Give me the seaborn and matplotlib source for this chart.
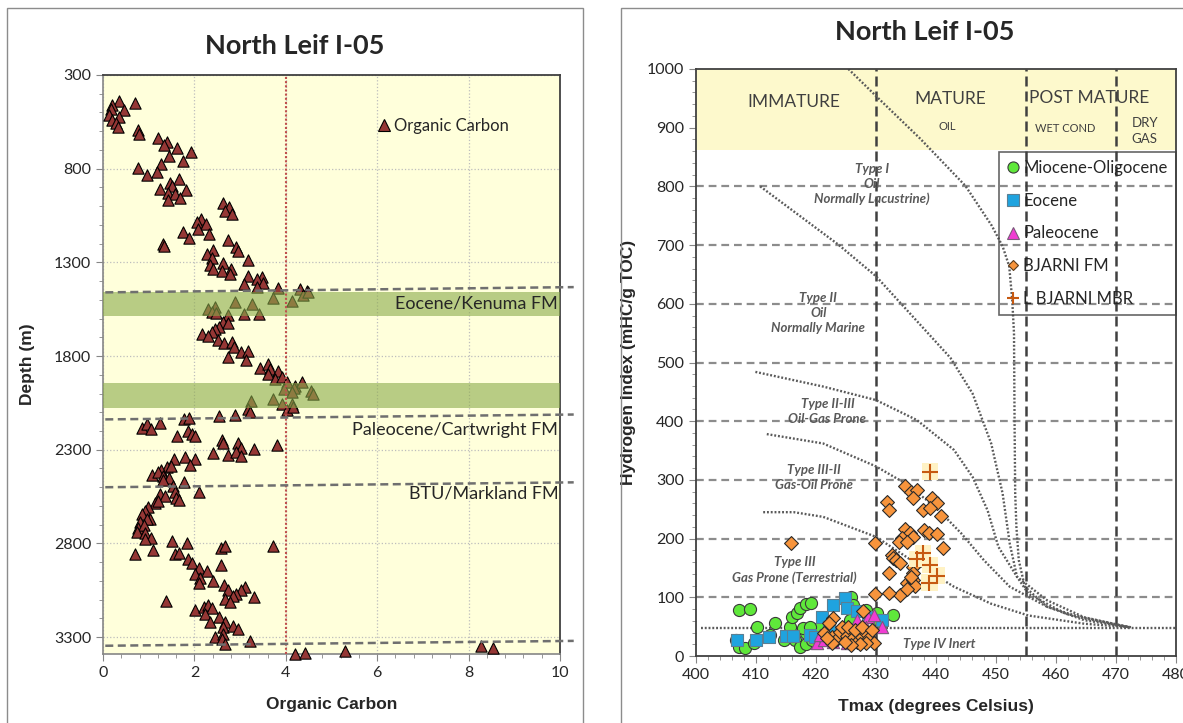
import matplotlib
matplotlib.use("Agg")
import matplotlib.pyplot as plt
import matplotlib.ticker as mticker
from matplotlib.lines import Line2D
from matplotlib.patches import Rectangle
import numpy as np
import seaborn as sns

sns.set_style("ticks")
plt.rcParams["font.family"] = ["Lato", "DejaVu Sans"]
plt.rcParams["axes.unicode_minus"] = False

WELL = "North Leif I-05"

# ---------------- Organic carbon log ----------------
toc = [
    0.34, 0.69, 0.20, 0.47, 0.18, 0.13, 0.35, 0.19, 0.28, 0.32, 0.77, 0.79, 1.20, 1.39,
    1.33, 1.61, 1.93, 1.44, 1.74, 1.27, 0.77, 1.18, 0.96, 1.66, 1.47, 1.50, 1.25, 1.81,
    1.42, 1.58, 1.69, 1.43, 2.63, 2.76, 2.67, 2.83, 2.14, 2.05, 2.25, 2.07, 1.75, 2.33,
    1.88, 2.73, 1.32, 1.34, 2.92, 2.41, 2.96, 2.27, 2.38, 3.18, 2.63, 2.34, 2.41, 2.80,
    2.60, 2.78, 3.17, 3.47, 3.36, 3.51, 3.09, 3.38, 3.84, 4.31, 4.46,
    2.89, 3.25, 3.71, 4.13, 4.38, 4.49, 2.29, 2.44, 2.38, 2.47, 2.74, 3.09, 3.41, 2.63,
    2.74, 2.54, 2.44, 2.38, 2.16, 2.29, 2.52, 2.65, 2.82, 2.87, 3.03, 3.18, 2.73, 3.14,
    3.44, 3.62, 3.65, 3.82, 3.62, 3.76, 3.91, 4.02, 4.20, 4.35, 4.19, 3.97, 4.13, 4.55,
    4.60, 3.73, 3.24, 3.91, 4.13, 3.18, 4.02, 4.16, 3.22, 2.89, 2.54, 0.85, 0.96, 1.05,
    1.25, 1.78, 1.88, 1.61, 1.87, 1.94, 2.01, 2.60, 2.63, 2.96, 3.03, 3.31, 3.80, 2.41,
    2.74, 2.92, 3.03, 1.56, 1.79, 2.01,
    1.90, 1.39, 1.49, 1.28, 1.08, 1.21, 1.32, 1.44, 1.32, 1.78, 1.54, 2.10, 1.25, 1.36,
    1.14, 1.20, 1.58, 1.59, 1.66, 0.99, 0.92, 0.86, 1.03, 0.96, 0.81, 0.77, 0.90, 0.74,
    0.92, 1.05, 0.92, 1.52, 1.83, 1.10, 0.69, 1.58, 1.66, 2.58, 2.67, 3.73, 1.85, 1.94,
    2.10, 2.27, 2.58, 2.01, 2.12, 2.10, 2.41, 2.65, 2.73, 3.11, 3.03, 2.92, 2.85, 2.67,
    3.31, 2.78, 1.37, 2.01, 2.20, 2.30, 2.38, 2.23, 2.54, 2.34, 2.67, 2.63, 2.85, 2.96,
    2.45, 2.63, 2.60, 2.68, 3.22, 4.20, 4.41, 5.30, 8.27, 8.53,
]
depth = [
    440, 452, 461, 488, 483, 511, 524, 542, 554, 578, 596, 614, 635, 655,
    676, 691, 709, 734, 757, 775, 798, 816, 834, 856, 877, 892, 906, 913,
    931, 936, 956, 968, 985, 1002, 1026, 1044, 1070, 1085, 1097, 1124, 1137, 1151,
    1169, 1178, 1200, 1210, 1217, 1232, 1241, 1253, 1277, 1289, 1303, 1312, 1336, 1336,
    1348, 1361, 1372, 1379, 1390, 1411, 1415, 1429, 1438, 1440, 1451,
    1510, 1524, 1492, 1506, 1474, 1459, 1549, 1536, 1563, 1572, 1581, 1578, 1576, 1617,
    1626, 1644, 1653, 1671, 1680, 1693, 1716, 1728, 1725, 1752, 1778, 1775, 1805, 1823,
    1864, 1841, 1868, 1882, 1895, 1922, 1913, 1940, 1958, 1940, 1972, 1976, 1993, 1984,
    2002, 2029, 2038, 2054, 2054, 2083, 2090, 2072, 2101, 2115, 2122, 2182, 2164, 2191,
    2155, 2137, 2128, 2227, 2200, 2218, 2227, 2249, 2262, 2262, 2289, 2298, 2276, 2318,
    2329, 2314, 2332, 2350, 2341, 2350,
    2379, 2391, 2388, 2406, 2433, 2420, 2442, 2450, 2463, 2474, 2495, 2527, 2536, 2545,
    2584, 2571, 2527, 2557, 2570, 2607, 2625, 2643, 2670, 2670, 2688, 2715, 2702, 2739,
    2743, 2769, 2778, 2787, 2796, 2837, 2855, 2858, 2849, 2823, 2811, 2814, 2885, 2903,
    2930, 2948, 2916, 2962, 2983, 3010, 2998, 3023, 3046, 3033, 3051, 3069, 3082, 3095,
    3087, 3113, 3107, 3155, 3140, 3131, 3144, 3176, 3194, 3221, 3221, 3248, 3239, 3257,
    3298, 3284, 3311, 3334, 3323, 3388, 3382, 3375, 3348, 3359,
]

# formation tops (depth at left / right end of the pick line)
pick_left = [1460, 2138, 2500, 3346]
pick_right = [1432, 2112, 2474, 3320]
zone_top = [1460, 1943]
zone_base = [1585, 2077]
fm_names = ["Eocene/Kenuma FM", "Paleocene/Cartwright FM", "BTU/Markland FM"]
fm_name_depth = [1520, 2195, 2532]
toc_cutoff = 4.0

# ---------------- Rock-Eval pyrolysis ----------------
mio_t = [407.1, 409.0, 410.1, 406.7, 407.2, 408.2, 413.2, 412.3, 415.7, 416.0, 416.8,
         417.3, 418.3, 419.1, 416.5, 417.3, 418.4, 419.3, 420.1, 418.4, 417.9, 420.7,
         425.9, 426.2, 428.4, 430.1, 432.9, 430.7, 425.7, 423.4, 419.0, 414.6, 409.6]
mio_hi = [78, 80, 50, 27, 16, 13, 56, 36, 50, 67, 73, 81, 89, 91, 27, 16, 20, 27, 39,
          39, 47, 50, 101, 87, 78, 73, 70, 58, 61, 41, 50, 27, 22]

eoc_t = [406.9, 410.0, 412.1, 415.0, 416.2, 419.0, 421.0, 422.9, 424.8, 425.1, 426.8,
         428.7, 431.0, 422.1, 419.8]
eoc_hi = [28, 27, 33, 34, 34, 36, 67, 87, 98, 81, 76, 67, 61, 50, 33]

pal_t = [420.1, 421.3, 422.9, 424.6, 426.8, 428.7, 429.6, 431.0, 427.3, 425.1, 420.7, 428.4]
pal_hi = [22, 27, 24, 30, 61, 67, 70, 50, 41, 22, 36, 50]

bj_t = [415.8, 429.9, 431.8, 432.1, 434.8, 435.8, 436.8, 436.2, 439.4, 440.2, 437.8,
        439.0, 440.9, 434.8, 435.6, 436.2, 434.4, 438.0, 438.9, 440.2, 441.1, 433.9,
        435.1, 432.6, 432.9, 433.4, 434.0, 432.1, 436.2, 436.2, 435.1, 436.1, 436.5,
        434.0, 432.1, 429.9, 435.1, 435.9, 427.9, 422.9, 422.1, 421.3, 422.6, 423.4,
        424.0, 425.1, 425.9, 426.8, 427.6, 428.4, 428.9, 429.6, 428.4, 427.3, 425.9,
        424.8, 424.3, 425.4, 426.5, 427.6, 429.3, 422.6, 421.8]
bj_hi = [192, 192, 263, 248, 289, 280, 283, 269, 270, 261, 248, 252, 239, 216, 210,
         202, 201, 215, 210, 208, 184, 195, 195, 172, 167, 163, 158, 141, 152, 141, 124,
         130, 119, 104, 108, 106, 114, 135, 76, 64, 56, 40, 33, 27, 41, 34, 27, 23, 33,
         40, 30, 22, 22, 20, 19, 24, 50, 50, 44, 50, 44, 22, 30]

lbj_t = [439.0, 437.8, 436.8, 439.0, 440.2, 438.9]
lbj_hi = [314, 175, 165, 155, 137, 125]

series_names = ["Miocene-Oligocene", "Eocene", "Paleocene", "BJARNI FM", "L BJARNI MBR"]

# kerogen type guide curves
type1_t = [425.4, 430.0, 437.4, 444.9, 449.3, 451.1, 452.2, 452.7, 453.0, 453.1, 453.2,
           453.4, 453.8, 454.8, 458.5, 464.7, 472.2]
type1_hi = [1000, 954, 881, 801, 733, 698, 664, 607, 550, 390, 277, 220, 163, 118, 84, 61, 49]
type2_t = [410.7, 423.7, 430.0, 442.4, 446.1, 449.2, 451.1, 452.3, 453.5, 455.4, 461.6, 470.9, 472.5]
type2_hi = [800, 701, 647, 508, 447, 362, 277, 191, 135, 106, 72, 52, 49]
type23_t = [409.9, 421.2, 430.0, 436.8, 443.0, 446.1, 448.6, 450.4, 453.5, 458.5, 464.7, 472.2]
type23_hi = [484, 459, 436, 402, 351, 305, 248, 186, 135, 95, 66, 49]
type32_t = [411.8, 421.2, 430.0, 434.9, 439.9, 444.2, 448.0, 452.3, 458.5, 464.7, 472.2]
type32_hi = [378, 362, 323, 294, 254, 209, 163, 118, 84, 64, 49]
type3_t = [411.2, 416.3, 421.2, 430.0, 436.8, 443.0, 449.2, 455.4, 464.7, 472.2]
type3_hi = [245, 245, 237, 203, 157, 118, 89, 69, 55, 49]
type4_t = [400.8, 480.0]
type4_hi = [48, 48]

maturity_bounds = [430, 455, 470]
mature_window_hi = 862

W, H = 1183, 723
fig = plt.figure(figsize=(W / 100, H / 100), dpi=100)
fig.patch.set_facecolor("white")

# chart-area borders
for x0 in (7, 621):
    fig.patches.append(Rectangle((x0 / W, -0.1), 576 / W, 1.1 - 8 / H,
                                 transform=fig.transFigure, fill=False,
                                 ec="#8c8c8c", lw=1.0, zorder=0))

BOLD_SANS = ["Liberation Sans", "DejaVu Sans"]
TICK_COLOR = "#262626"
LABEL_SIZE = 12.5
TITLE_SIZE = 19.5

# ===================== TOC vs depth =====================
ax1 = fig.add_axes([103 / W, 1 - 654 / H, 457 / W, 579 / H])
ax1.set_facecolor("#FFFFDB")
ax1.set_xlim(0, 10)
ax1.set_ylim(3390, 300)
ax1.set_xticks(np.arange(0, 11, 2))
ax1.xaxis.set_minor_locator(mticker.MultipleLocator(0.4))
ax1.set_yticks(np.arange(300, 3301, 500))
ax1.yaxis.set_minor_locator(mticker.MultipleLocator(100))
ax1.grid(True, which="major", color="#bdbdbd", ls=":", lw=0.9)
ax1.set_axisbelow(True)

sns.scatterplot(x=toc, y=depth, ax=ax1, marker="^", s=66, color="#953735",
                edgecolor="black", linewidth=0.8, zorder=3, clip_on=False, legend=False)

ax1.axvline(toc_cutoff, color="#C0504D", ls=(0, (1, 1)), lw=1.5, zorder=5)
for top, base in zip(zone_top, zone_base):
    ax1.axhspan(top, base, color="#8AAA4A", alpha=0.6, lw=0, zorder=4)
for dl, dr in zip(pick_left, pick_right):
    ax1.plot([0.05, 10.3], [dl, dr], color="#6f6f6f", lw=1.8, ls=(0, (3.2, 1.8)),
             clip_on=False, zorder=6)
for name, d in zip(fm_names, fm_name_depth):
    ax1.text(9.96, d, name, ha="right", va="center", fontsize=13, color="#262626", zorder=7)

toc_handle = Line2D([], [], marker="^", ls="none", markerfacecolor="#953735",
                    markeredgecolor="black", markersize=8, markeredgewidth=0.8)
ax1.legend([toc_handle], ["Organic Carbon"], loc="center left", bbox_to_anchor=(0.6, 0.912),
           frameon=False, fontsize=12, handlelength=0.8, handletextpad=0.2,
           borderaxespad=0, borderpad=0)

for side in ("top", "right"):
    ax1.spines[side].set_color("#404040")
    ax1.spines[side].set_linewidth(1.3)
for side in ("left", "bottom"):
    ax1.spines[side].set_color("#868686")
    ax1.spines[side].set_linewidth(1.2)
ax1.tick_params(which="major", direction="out", length=5, color="#868686",
                labelsize=11.5, labelcolor=TICK_COLOR)
ax1.tick_params(which="minor", direction="out", length=3, color="#868686")
ax1.set_xlabel("Organic Carbon", fontsize=LABEL_SIZE, fontweight="bold", family=BOLD_SANS)
ax1.set_ylabel("Depth (m)", fontsize=LABEL_SIZE, fontweight="bold", family=BOLD_SANS)
ax1.xaxis.set_label_coords(0.5, -0.075)
ax1.yaxis.set_label_coords(-0.149, 0.5)
fig.text(295 / W, 1 - 46 / H, WELL, ha="center", va="center", fontsize=TITLE_SIZE,
         fontweight="bold")

# ===================== HI vs Tmax =====================
ax2 = fig.add_axes([696 / W, 1 - 656 / H, 480 / W, 587 / H])
ax2.set_facecolor("white")
ax2.set_xlim(400, 480)
ax2.set_ylim(0, 1000)
ax2.set_xticks(np.arange(400, 481, 10))
ax2.xaxis.set_minor_locator(mticker.MultipleLocator(2))
ax2.set_yticks(np.arange(0, 1001, 100))
ax2.yaxis.set_minor_locator(mticker.MultipleLocator(20))

for v in range(100, 900, 100):
    ax2.axhline(v, color="#8c8c8c", lw=1.6, ls=(0, (3.5, 2.2)), zorder=1)
ax2.axhspan(mature_window_hi, 1000, color="#FDF9CC", lw=0, zorder=1.5)
for v in maturity_bounds:
    ax2.axvline(v, color="#404040", lw=1.8, ls=(0, (4, 2)), zorder=2)

curve_style = dict(color="#5a5a5a", lw=1.7, ls=(0, (0.8, 0.8)), zorder=2.5)
for ct, ch in ((type1_t, type1_hi), (type2_t, type2_hi), (type23_t, type23_hi),
               (type32_t, type32_hi), (type3_t, type3_hi), (type4_t, type4_hi)):
    sns.lineplot(x=ct, y=ch, ax=ax2, sort=False, estimator=None, **curve_style)

c_green, c_blue, c_pink, c_orange, c_plus = "#5FE83A", "#1FA3DF", "#F03CD2", "#F7943C", "#C65911"
sns.scatterplot(x=mio_t, y=mio_hi, ax=ax2, marker="o", s=76, color=c_green,
                edgecolor="#3a3a3a", linewidth=0.8, zorder=3.0, clip_on=False, legend=False)
sns.scatterplot(x=eoc_t, y=eoc_hi, ax=ax2, marker="s", s=68, color=c_blue,
                edgecolor="#5b7f93", linewidth=0.8, zorder=3.1, clip_on=False, legend=False)
sns.scatterplot(x=pal_t, y=pal_hi, ax=ax2, marker="^", s=78, color=c_pink,
                edgecolor="#7a5a7a", linewidth=0.8, zorder=3.2, clip_on=False, legend=False)
sns.scatterplot(x=bj_t, y=bj_hi, ax=ax2, marker="D", s=50, color=c_orange,
                edgecolor="#2a2a2a", linewidth=0.8, zorder=3.3, clip_on=False, legend=False)
sns.scatterplot(x=lbj_t, y=lbj_hi, ax=ax2, marker="s", s=140, color="#FFF2C4",
                edgecolor="none", linewidth=0, zorder=3.4, legend=False)
sns.scatterplot(x=lbj_t, y=lbj_hi, ax=ax2, marker="+", s=140, color=c_plus,
                linewidth=1.5, zorder=3.5, legend=False)

zone_txt = dict(ha="center", va="center", color="#404040")
ax2.text(416.3, 944, "IMMATURE", fontsize=12.5, **zone_txt)
ax2.text(442.4, 949, "MATURE", fontsize=12.5, **zone_txt)
ax2.text(441.8, 902, "OIL", fontsize=8, **zone_txt)
ax2.text(465.5, 950, "POST MATURE", fontsize=12.5, **zone_txt)
ax2.text(461.6, 898, "WET COND", fontsize=8, **zone_txt)
ax2.text(474.8, 894, "DRY\nGAS", fontsize=9.5, linespacing=1.45, **zone_txt)

kt = dict(ha="center", va="center", color="#595959", fontsize=9.5, fontweight="bold",
          fontstyle="italic", linespacing=1.3, zorder=4)
ax2.text(429.3, 804, "Type I\nOil\nNormally Lacustrine)", **kt)
ax2.text(420.4, 585, "Type II\nOil\nNormally Marine", **kt)
ax2.text(421.9, 416, "Type II-III\nOil-Gas Prone", **kt)
ax2.text(419.7, 304, "Type III-II\nGas-Oil Prone", **kt)
ax2.text(416.4, 146, "Type III\nGas Prone (Terrestrial)", **kt)
ax2.text(440.5, 21, "Type IV Inert", **kt)

handles = [
    Line2D([], [], marker="o", ls="none", mfc=c_green, mec="#3a3a3a", ms=8, mew=0.8),
    Line2D([], [], marker="s", ls="none", mfc=c_blue, mec="#5b7f93", ms=8, mew=0.8),
    Line2D([], [], marker="^", ls="none", mfc=c_pink, mec="#7a5a7a", ms=8, mew=0.8),
    Line2D([], [], marker="D", ls="none", mfc=c_orange, mec="#5a3a1a", ms=5.5, mew=0.8),
    Line2D([], [], marker="+", ls="none", color=c_plus, ms=9, mew=1.5),
]
leg = ax2.legend(handles, series_names, loc="upper right", bbox_to_anchor=(1.0, 0.859),
                 borderaxespad=0, fontsize=12, frameon=True, fancybox=False,
                 edgecolor="#404040", handlelength=0.7, handletextpad=0.25,
                 labelspacing=1.0, borderpad=0.5)
leg.get_frame().set_facecolor("none")
leg.get_frame().set_linewidth(1.2)
leg.set_zorder(10)

for side in ax2.spines:
    ax2.spines[side].set_color("#404040")
    ax2.spines[side].set_linewidth(1.3)
ax2.tick_params(which="major", direction="out", length=5, color="#868686",
                labelsize=11.5, labelcolor=TICK_COLOR)
ax2.tick_params(which="minor", direction="out", length=3, color="#868686")
ax2.set_xlabel("Tmax (degrees Celsius)", fontsize=LABEL_SIZE, fontweight="bold", family=BOLD_SANS)
ax2.set_ylabel("Hydrogen Index (mHC/g TOC)", fontsize=LABEL_SIZE, fontweight="bold",
               family=BOLD_SANS)
ax2.xaxis.set_label_coords(0.5, -0.074)
ax2.yaxis.set_label_coords(-0.125, 0.5)
fig.text(925 / W, 1 - 32 / H, WELL, ha="center", va="center", fontsize=TITLE_SIZE,
         fontweight="bold")

fig.savefig("out.png", dpi=100)
